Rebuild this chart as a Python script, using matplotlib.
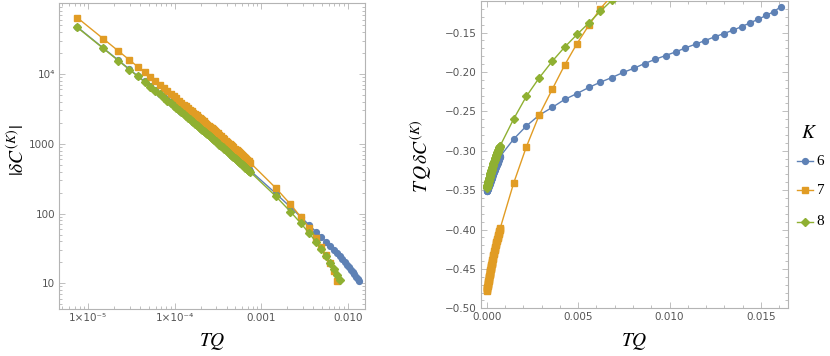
import numpy as np
import matplotlib
matplotlib.use("Agg")
import matplotlib.pyplot as plt
from matplotlib.lines import Line2D
from matplotlib.ticker import FixedLocator, FixedFormatter, LogLocator, MultipleLocator, NullFormatter

plt.rcParams['font.family'] = ['DejaVu Sans']
plt.rcParams['mathtext.fontset'] = 'stix'

# TQ grid: fine part (the dense band) and coarse part
tq_fine = [7.45e-6, 1.49e-5, 2.235e-5, 2.98e-5, 3.725e-5, 4.47e-5, 5.215e-5, 5.96e-5, 6.705e-5, 7.45e-5,
           8.195e-5, 8.94e-5, 9.685e-5, 1.043e-4, 1.1175e-4, 1.192e-4, 1.2665e-4, 1.341e-4, 1.4155e-4, 1.49e-4,
           1.5645e-4, 1.639e-4, 1.7135e-4, 1.788e-4, 1.8625e-4, 1.937e-4, 2.0115e-4, 2.086e-4, 2.1605e-4, 2.235e-4,
           2.3095e-4, 2.384e-4, 2.4585e-4, 2.533e-4, 2.6075e-4, 2.682e-4, 2.7565e-4, 2.831e-4, 2.9055e-4, 2.98e-4,
           3.129e-4, 3.278e-4, 3.427e-4, 3.576e-4, 3.725e-4, 3.874e-4, 4.023e-4, 4.172e-4, 4.321e-4, 4.47e-4,
           4.619e-4, 4.768e-4, 4.917e-4, 5.066e-4, 5.215e-4, 5.364e-4, 5.513e-4, 5.662e-4, 5.811e-4, 5.96e-4,
           6.109e-4, 6.258e-4, 6.407e-4, 6.556e-4, 6.705e-4, 6.854e-4, 7.003e-4, 7.152e-4, 7.301e-4, 7.45e-4]
tq_coarse = [0.00147, 0.00217, 0.00287, 0.00358, 0.00426, 0.00494, 0.00559, 0.00622,
             0.00685, 0.00746, 0.00806, 0.00863, 0.0092, 0.00978, 0.01034, 0.01087,
             0.01142, 0.01194, 0.01247, 0.01297, 0.01347, 0.01395, 0.0144, 0.01485,
             0.0153, 0.0157, 0.0161]

# T Q dC^(K) values (right panel); the left panel shows |dC| = -value / TQ
y6_fine = [-0.3515, -0.3510, -0.3505, -0.3500, -0.3495, -0.3490, -0.3485, -0.3480, -0.3475, -0.3471,
           -0.3466, -0.3461, -0.3456, -0.3451, -0.3446, -0.3441, -0.3436, -0.3432, -0.3427, -0.3422,
           -0.3417, -0.3412, -0.3408, -0.3403, -0.3398, -0.3393, -0.3389, -0.3384, -0.3379, -0.3375,
           -0.3370, -0.3365, -0.3360, -0.3356, -0.3351, -0.3346, -0.3342, -0.3337, -0.3333, -0.3328,
           -0.3319, -0.3310, -0.3301, -0.3292, -0.3283, -0.3274, -0.3265, -0.3256, -0.3247, -0.3238,
           -0.3229, -0.3220, -0.3212, -0.3203, -0.3195, -0.3186, -0.3177, -0.3169, -0.3160, -0.3152,
           -0.3144, -0.3135, -0.3127, -0.3119, -0.3111, -0.3102, -0.3094, -0.3086, -0.3078, -0.3070]
y7_fine = [-0.4780, -0.4769, -0.4759, -0.4748, -0.4738, -0.4728, -0.4718, -0.4708, -0.4697, -0.4687,
           -0.4677, -0.4667, -0.4658, -0.4648, -0.4638, -0.4628, -0.4618, -0.4609, -0.4599, -0.4590,
           -0.4580, -0.4571, -0.4561, -0.4552, -0.4542, -0.4533, -0.4524, -0.4515, -0.4506, -0.4497,
           -0.4488, -0.4479, -0.4470, -0.4461, -0.4452, -0.4443, -0.4434, -0.4425, -0.4417, -0.4408,
           -0.4391, -0.4374, -0.4358, -0.4341, -0.4325, -0.4309, -0.4293, -0.4277, -0.4262, -0.4246,
           -0.4231, -0.4216, -0.4202, -0.4187, -0.4173, -0.4158, -0.4144, -0.4131, -0.4117, -0.4104,
           -0.4090, -0.4077, -0.4065, -0.4052, -0.4039, -0.4027, -0.4015, -0.4003, -0.3992, -0.3980]
y8_fine = [-0.3473, -0.3465, -0.3458, -0.3451, -0.3444, -0.3437, -0.3429, -0.3422, -0.3415, -0.3408,
           -0.3401, -0.3395, -0.3388, -0.3381, -0.3374, -0.3367, -0.3361, -0.3354, -0.3347, -0.3341,
           -0.3334, -0.3328, -0.3321, -0.3315, -0.3308, -0.3302, -0.3295, -0.3289, -0.3283, -0.3277,
           -0.3270, -0.3264, -0.3258, -0.3252, -0.3246, -0.3240, -0.3234, -0.3228, -0.3222, -0.3216,
           -0.3205, -0.3193, -0.3182, -0.3171, -0.3160, -0.3149, -0.3139, -0.3128, -0.3118, -0.3107,
           -0.3097, -0.3087, -0.3078, -0.3068, -0.3059, -0.3049, -0.3040, -0.3031, -0.3022, -0.3014,
           -0.3005, -0.2997, -0.2988, -0.2980, -0.2972, -0.2965, -0.2957, -0.2950, -0.2942, -0.2935]

y6_coarse = [-0.2854, -0.2686, -0.2549, -0.2451, -0.2350, -0.2274, -0.2197, -0.2130, -0.2071,
             -0.2007, -0.1953, -0.1894, -0.1842, -0.1792, -0.1746, -0.1695, -0.1648, -0.1602,
             -0.1555, -0.1513, -0.1471, -0.1424, -0.1378, -0.1331, -0.1281, -0.1234, -0.1170]
y7_coarse = [-0.3415, -0.2951, -0.2549, -0.2223, -0.1915, -0.1640, -0.1407, -0.1196,
             -0.1030, -0.0814]
y8_coarse = [-0.2600, -0.2310, -0.2076, -0.1866, -0.1686, -0.1525, -0.1378, -0.1230,
             -0.1090, -0.0980, -0.0897]

# number of coarse points shown in the left (log) panel
n_left = [21, 10, 11]

labels = ['6', '7', '8']
colors = ['#5E81B5', '#E19C24', '#8FB032']
markers = ['o', 's', 'D']
msizes = [4.2, 4.2, 3.8]

fines = [y6_fine, y7_fine, y8_fine]
coarses = [y6_coarse, y7_coarse, y8_coarse]

frame_col = '#b4b4b4'
tick_col = '#555555'

fig = plt.figure(figsize=(8.3, 3.56), dpi=100)
ax1 = fig.add_axes([59.3 / 830, 1 - 309.3 / 356, (365 - 59.3) / 830, (309.3 - 2.7) / 356])
ax2 = fig.add_axes([481 / 830, 1 - 308.3 / 356, (787.7 - 481) / 830, (308.3 - 1.0) / 356])

for i in range(3):
    tq = np.array(tq_fine + tq_coarse[:len(coarses[i])])
    yv = np.array(fines[i] + coarses[i])
    nl = len(tq_fine) + n_left[i]
    ax1.plot(tq[:nl], -yv[:nl] / tq[:nl], color=colors[i], marker=markers[i],
             ms=msizes[i], lw=1.0, zorder=2 + i)
    ax2.plot(tq, yv, color=colors[i], marker=markers[i], ms=msizes[i], lw=1.0, zorder=2 + i)

# left panel: log-log
ax1.set_xscale('log')
ax1.set_yscale('log')
ax1.set_xlim(4.63e-6, 0.0158)
ax1.set_ylim(4.24, 1.05e5)
ax1.xaxis.set_major_locator(FixedLocator([1e-5, 1e-4, 1e-3, 1e-2]))
ax1.xaxis.set_major_formatter(FixedFormatter(['1×10⁻⁵', '1×10⁻⁴', '0.001', '0.010']))
ax1.xaxis.set_minor_locator(LogLocator(base=10, subs=np.arange(2, 10), numticks=20))
ax1.xaxis.set_minor_formatter(NullFormatter())
ax1.yaxis.set_major_locator(FixedLocator([10, 100, 1000, 1e4]))
ax1.yaxis.set_major_formatter(FixedFormatter(['10', '100', '1000', '10⁴']))
ax1.yaxis.set_minor_locator(LogLocator(base=10, subs=np.arange(2, 10), numticks=20))
ax1.yaxis.set_minor_formatter(NullFormatter())

# right panel: linear
ax2.set_xlim(-0.00031, 0.01646)
ax2.set_ylim(-0.50, -0.110)
ax2.xaxis.set_major_locator(MultipleLocator(0.005))
ax2.xaxis.set_minor_locator(MultipleLocator(0.001))
ax2.xaxis.set_major_formatter(plt.FuncFormatter(lambda v, p: f'{v:.3f}'))
ax2.yaxis.set_major_locator(MultipleLocator(0.05))
ax2.yaxis.set_minor_locator(MultipleLocator(0.01))
ax2.yaxis.set_major_formatter(plt.FuncFormatter(lambda v, p: f'{v:.2f}'.replace('-', '\u2212')))

for ax in (ax1, ax2):
    for s in ax.spines.values():
        s.set_color(frame_col)
        s.set_linewidth(0.8)
    ax.tick_params(which='both', direction='in', top=True, right=True, color=frame_col,
                   labelcolor=tick_col, labelsize=7.5, width=0.6)
    ax.tick_params(which='major', length=4, pad=3)
    ax.tick_params(which='minor', length=2)

# axis labels
fig.text(212 / 830, 1 - 342 / 356, r'$TQ$', fontsize=14, ha='center', va='center')
fig.text(634 / 830, 1 - 342 / 356, r'$TQ$', fontsize=14, ha='center', va='center')
fig.text(17 / 830, 1 - 150 / 356, r'$|\delta C^{(K)}|$', fontsize=14, rotation=90,
         ha='center', va='center')
fig.text(421 / 830, 1 - 156 / 356, r'$T\,Q\,\delta C^{(K)}$', fontsize=14, rotation=90,
         ha='center', va='center')

# legend
fig.text(809 / 830, 1 - 132 / 356, r'$K$', fontsize=14, ha='center', va='center')
leg_y = [161, 190, 221.7]
for i in range(3):
    yy = 1 - leg_y[i] / 356
    fig.add_artist(Line2D([796.7 / 830, 813.3 / 830], [yy, yy], color=colors[i], lw=1.0,
                          transform=fig.transFigure))
    fig.add_artist(Line2D([805 / 830], [yy], color=colors[i], marker=markers[i], ms=msizes[i],
                          lw=0, transform=fig.transFigure))
    fig.text(816.5 / 830, yy, labels[i], fontsize=11, family='Liberation Serif',
             ha='left', va='center')

fig.savefig('out.png', dpi=100)
